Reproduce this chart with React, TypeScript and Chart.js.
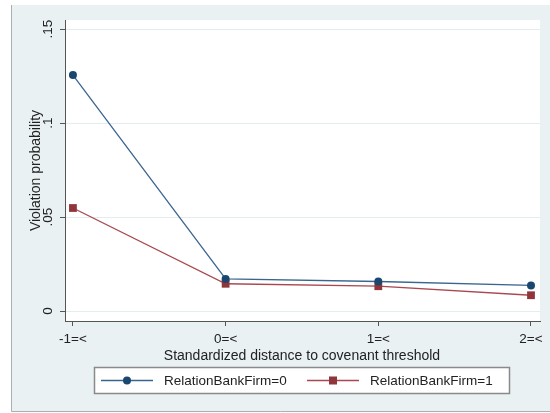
import React, { useEffect, useRef } from 'react';
import { Chart, registerables } from 'chart.js';

Chart.register(...registerables);

// Distance buckets on the x axis and their labels
const categories = ['-1=<', '0=<', '1=<', '2=<'];
const distance = [-1, 0, 1, 2];

// Predicted violation probability by relationship-bank status
const relation0 = [0.1255, 0.0171, 0.0157, 0.0136];
const relation1 = [0.0548, 0.0145, 0.0132, 0.0084];
const seriesLabels = ['RelationBankFirm=0', 'RelationBankFirm=1'];

// Y axis ticks
const yTickValues = [0, 0.05, 0.1, 0.15];
const yTickLabels = ['0', '.05', '.1', '.15'];

const xTitle = 'Standardized distance to covenant threshold';
const yTitle = 'Violation probability';

const FONT = '"Liberation Sans", Arial, sans-serif';
const TEXT = '#222222';
const AXIS = '#555555';
const BG = '#e9f1f3';
const BLUE = '#1a476f';
const RED = '#90353b';
const BLUE_LINE = '#3a6590';
const RED_LINE = '#a9484f';

const framePlugin = {
  id: 'stataFrame',
  beforeDraw(chart: any) {
    const { ctx, width, height, chartArea } = chart;
    ctx.save();
    ctx.fillStyle = '#ffffff';
    ctx.fillRect(0, 0, width, height);
    // graph region
    ctx.fillStyle = BG;
    ctx.fillRect(11, 5, width - 11, 407);
    ctx.strokeStyle = '#a9b0b3';
    ctx.lineWidth = 1;
    ctx.beginPath();
    ctx.moveTo(11.5, 5);
    ctx.lineTo(11.5, 411.5);
    ctx.lineTo(width, 411.5);
    ctx.stroke();
    // plot region
    ctx.fillStyle = '#ffffff';
    ctx.fillRect(chartArea.left, chartArea.top, chartArea.right - chartArea.left, chartArea.bottom - chartArea.top);
    ctx.restore();
  },
  afterDraw(chart: any) {
    const { ctx, chartArea } = chart;
    const yScale = chart.scales.y;
    const xScale = chart.scales.x;
    ctx.save();
    ctx.fillStyle = TEXT;
    ctx.font = `13.5px ${FONT}`;
    ctx.textAlign = 'center';
    ctx.textBaseline = 'middle';

    // rotated y tick labels
    yTickValues.forEach((v, i) => {
      const y = yScale.getPixelForValue(v);
      ctx.save();
      ctx.translate(48, y);
      ctx.rotate(-Math.PI / 2);
      ctx.fillText(yTickLabels[i], 0, 0);
      ctx.restore();
    });

    // y title
    ctx.font = `14px ${FONT}`;
    const yMid = (chartArea.top + chartArea.bottom) / 2;
    ctx.save();
    ctx.translate(36, yMid);
    ctx.rotate(-Math.PI / 2);
    ctx.fillText(yTitle, 0, 0);
    ctx.restore();

    // x title
    const xMid = (xScale.getPixelForValue(distance[0]) + xScale.getPixelForValue(distance[distance.length - 1])) / 2;
    ctx.fillText(xTitle, xMid, 356);

    // legend
    ctx.font = `13.5px ${FONT}`;
    const box = { left: 94.5, top: 367.5, right: 509.5, bottom: 393.5 };
    ctx.fillStyle = '#ffffff';
    ctx.fillRect(box.left, box.top, box.right - box.left, box.bottom - box.top);
    ctx.strokeStyle = '#8a8a8a';
    ctx.lineWidth = 1.5;
    ctx.strokeRect(box.left, box.top, box.right - box.left, box.bottom - box.top);
    const cy = (box.top + box.bottom) / 2;
    const starts = [101, 307];
    chart.data.datasets.forEach((ds: any, i: number) => {
      const x0 = starts[i];
      const x1 = x0 + 52;
      ctx.strokeStyle = ds.borderColor;
      ctx.lineWidth = 1.3;
      ctx.beginPath();
      ctx.moveTo(x0, cy);
      ctx.lineTo(x1, cy);
      ctx.stroke();
      ctx.fillStyle = ds.pointBackgroundColor;
      const mx = (x0 + x1) / 2;
      if (ds.pointStyle === 'rect') {
        ctx.fillRect(mx - 4, cy - 4, 8, 8);
      } else {
        ctx.beginPath();
        ctx.arc(mx, cy, 4, 0, Math.PI * 2);
        ctx.fill();
      }
      ctx.fillStyle = TEXT;
      ctx.textAlign = 'left';
      ctx.fillText(ds.label, x1 + 11, cy + 0.5);
    });
    ctx.restore();
  },
};

export default function App() {
  const canvasRef = useRef<HTMLCanvasElement | null>(null);

  useEffect(() => {
    const canvas = canvasRef.current;
    if (!canvas) return;
    const chart = new Chart(canvas, {
      type: 'line',
      data: {
        datasets: [
          {
            label: seriesLabels[0],
            data: distance.map((x, i) => ({ x, y: relation0[i] })),
            borderColor: BLUE_LINE,
            backgroundColor: BLUE,
            borderWidth: 1.3,
            pointStyle: 'circle',
            pointRadius: 4,
            pointBackgroundColor: BLUE,
            pointBorderColor: BLUE,
            pointBorderWidth: 0,
            tension: 0,
          },
          {
            label: seriesLabels[1],
            data: distance.map((x, i) => ({ x, y: relation1[i] })),
            borderColor: RED_LINE,
            backgroundColor: RED,
            borderWidth: 1.3,
            pointStyle: 'rect',
            pointRadius: 5.5,
            pointBackgroundColor: RED,
            pointBorderColor: RED,
            pointBorderWidth: 0,
            tension: 0,
          },
        ],
      },
      options: {
        responsive: false,
        animation: false,
        devicePixelRatio: 1,
        layout: { padding: { top: 20, right: 10, left: 0, bottom: 0 } },
        plugins: {
          legend: { display: false },
          tooltip: { enabled: false },
        },
        scales: {
          x: {
            type: 'linear',
            min: -1.052,
            max: 2.059,
            afterBuildTicks: (scale: any) => {
              scale.ticks = distance.map((v) => ({ value: v }));
            },
            afterFit: (scale: any) => {
              scale.height = 92;
            },
            ticks: {
              callback: (v: any) => categories[distance.indexOf(Number(v))] ?? '',
              font: { size: 13.5, family: FONT },
              color: TEXT,
              padding: 5,
              maxRotation: 0,
              minRotation: 0,
              autoSkip: false,
            },
            grid: {
              drawOnChartArea: false,
              drawTicks: true,
              tickLength: 5,
              tickColor: AXIS,
              tickWidth: 1,
            },
            border: { color: AXIS, width: 1 },
          },
          y: {
            type: 'linear',
            min: -0.0053,
            max: 0.1548,
            afterBuildTicks: (scale: any) => {
              scale.ticks = yTickValues.map((v) => ({ value: v }));
            },
            afterFit: (scale: any) => {
              scale.width = 65;
            },
            ticks: { display: false },
            grid: {
              color: '#e3edf0',
              lineWidth: 1,
              drawTicks: true,
              tickLength: 5,
              tickColor: AXIS,
              tickWidth: 1,
            },
            border: { color: AXIS, width: 1 },
          },
        },
      },
      plugins: [framePlugin],
    });
    return () => chart.destroy();
  }, []);

  return (
    <div style={{ position: 'absolute', left: 0, top: 0, width: 550, height: 413 }}>
      <canvas ref={canvasRef} width={550} height={413} style={{ display: 'block', width: 550, height: 413 }} />
    </div>
  );
}
